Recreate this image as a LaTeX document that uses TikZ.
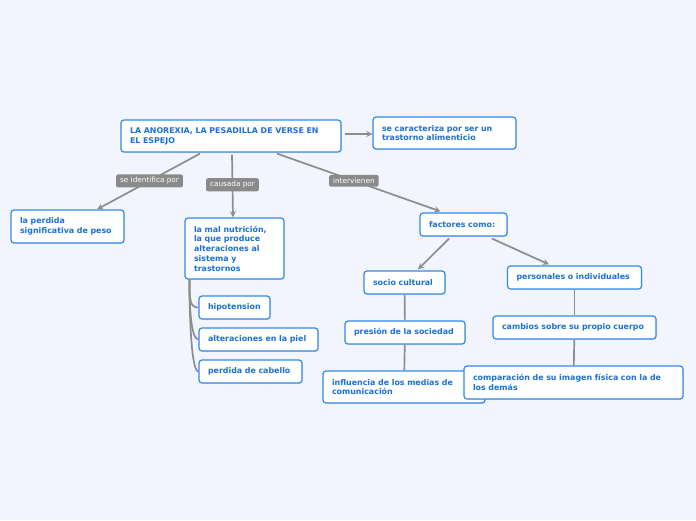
\documentclass[tikz,border=0pt]{standalone}
\usepackage{fontspec}
\setmainfont{DejaVu Sans}
\usetikzlibrary{shadows}

\definecolor{pagebg}{HTML}{F2F5FD}
\definecolor{topicblue}{HTML}{3189EA}
\definecolor{textblue}{HTML}{1C70D6}
\definecolor{linkgray}{HTML}{8D8D8D}
\definecolor{taggray}{HTML}{8A8A8A}

\begin{document}
\begin{tikzpicture}[x=1pt, y=-1pt, >=stealth,
  topic/.style={draw=topicblue, line width=1.2pt, fill=white, rounded corners=3pt,
    text=textblue, font=\fontsize{7.9}{9.8}\selectfont\bfseries, align=left,
    inner xsep=9pt, inner ysep=0pt,
    drop shadow={opacity=0.2, shadow xshift=0.8pt, shadow yshift=-0.8pt}},
  tag/.style={fill=taggray, rounded corners=2pt, text=white,
    font=\fontsize{7.3}{8.5}\selectfont, inner xsep=4pt, inner ysep=3pt},
  link/.style={draw=linkgray, line width=1.7pt}]

% page
\fill[pagebg] (0,0) rectangle (696,520);

% central topic
\node[topic, text width=202pt, minimum height=32pt] (main) at (231,136)
  {LA ANOREXIA, LA PESADILLA DE VERSE EN\\EL ESPEJO};
\node[topic, text width=125pt, minimum height=32pt] (caract) at (444.5,133)
  {se caracteriza por ser un\\trastorno alimenticio};

% left branches
\node[topic, text width=95pt, minimum height=33pt] (peso) at (67.5,226.5)
  {la perdida\\significativa de peso};
\node[topic, text width=81pt, minimum height=61pt] (nutr) at (234.5,248.5)
  {la mal nutrición,\\la que produce\\alteraciones al\\sistema y\\trastornos};
\node[topic, text width=53pt, minimum height=23pt] (hipo) at (234.5,307.5) {hipotension};
\node[topic, text width=101pt, minimum height=23pt] (piel) at (258.5,339.5) {alteraciones en la piel};
\node[topic, text width=85pt, minimum height=23pt] (cabello) at (250.5,371.5) {perdida de cabello};

% factors
\node[topic, text width=69pt, minimum height=23pt] (factores) at (463.5,224.5) {factores como:};
\node[topic, text width=63pt, minimum height=23pt] (socio) at (404.5,282.5) {socio cultural};
\node[topic, text width=116pt, minimum height=23pt] (personales) at (574.5,277.5) {personales o individuales};
\node[topic, text width=102pt, minimum height=23pt] (presion) at (405,332.5) {presión de la sociedad};
\node[topic, text width=145pt, minimum height=23pt] (cambios) at (574.5,327.5) {cambios sobre su propio cuerpo};
\node[topic, text width=144pt, minimum height=32pt] (influencia) at (404,387)
  {influencia de los medias de\\comunicación};
\node[topic, text width=201pt, minimum height=33pt] (comparacion) at (573.5,382.5)
  {comparación de su imagen física con la de\\los demás};

% connectors
\draw[link, ->] ([xshift=3pt, yshift=2pt]main.east) -- ([yshift=-1pt]caract.west);
\draw[link, ->] ([xshift=-31pt, yshift=-1pt]main.south)
  -- node[tag, pos=0.49] (identifica) {se identifica por} ([xshift=29.5pt]peso.north);
\draw[link, ->] ([xshift=1pt, yshift=-2pt]main.south)
  -- node[tag, pos=0.48] (causada) {causada por} ([xshift=-1.5pt]nutr.north);
\draw[link, ->] ([xshift=46pt, yshift=-1pt]main.south)
  -- node[tag, pos=0.47] (intervienen) {intervienen} ([xshift=-23pt, yshift=1pt]factores.north);

\draw[link, ->] ([xshift=-14.5pt, yshift=-2pt]factores.south) -- ([xshift=13.5pt, yshift=1pt]socio.north);
\draw[link, ->] ([xshift=28.5pt, yshift=-2pt]factores.south) -- ([xshift=-25.5pt, yshift=1pt]personales.north);

\draw[link] (socio) -- (presion);
\draw[link] (presion) -- (influencia);
\draw[link] (personales) -- (cambios);
\draw[link] (cambios) -- (comparacion);

\foreach \child in {hipo, piel, cabello}
  \draw[link] ([xshift=5pt]nutr.south west) .. controls +(0,22) and +(-8,0) .. (\child.west);

\end{tikzpicture}
\end{document}
